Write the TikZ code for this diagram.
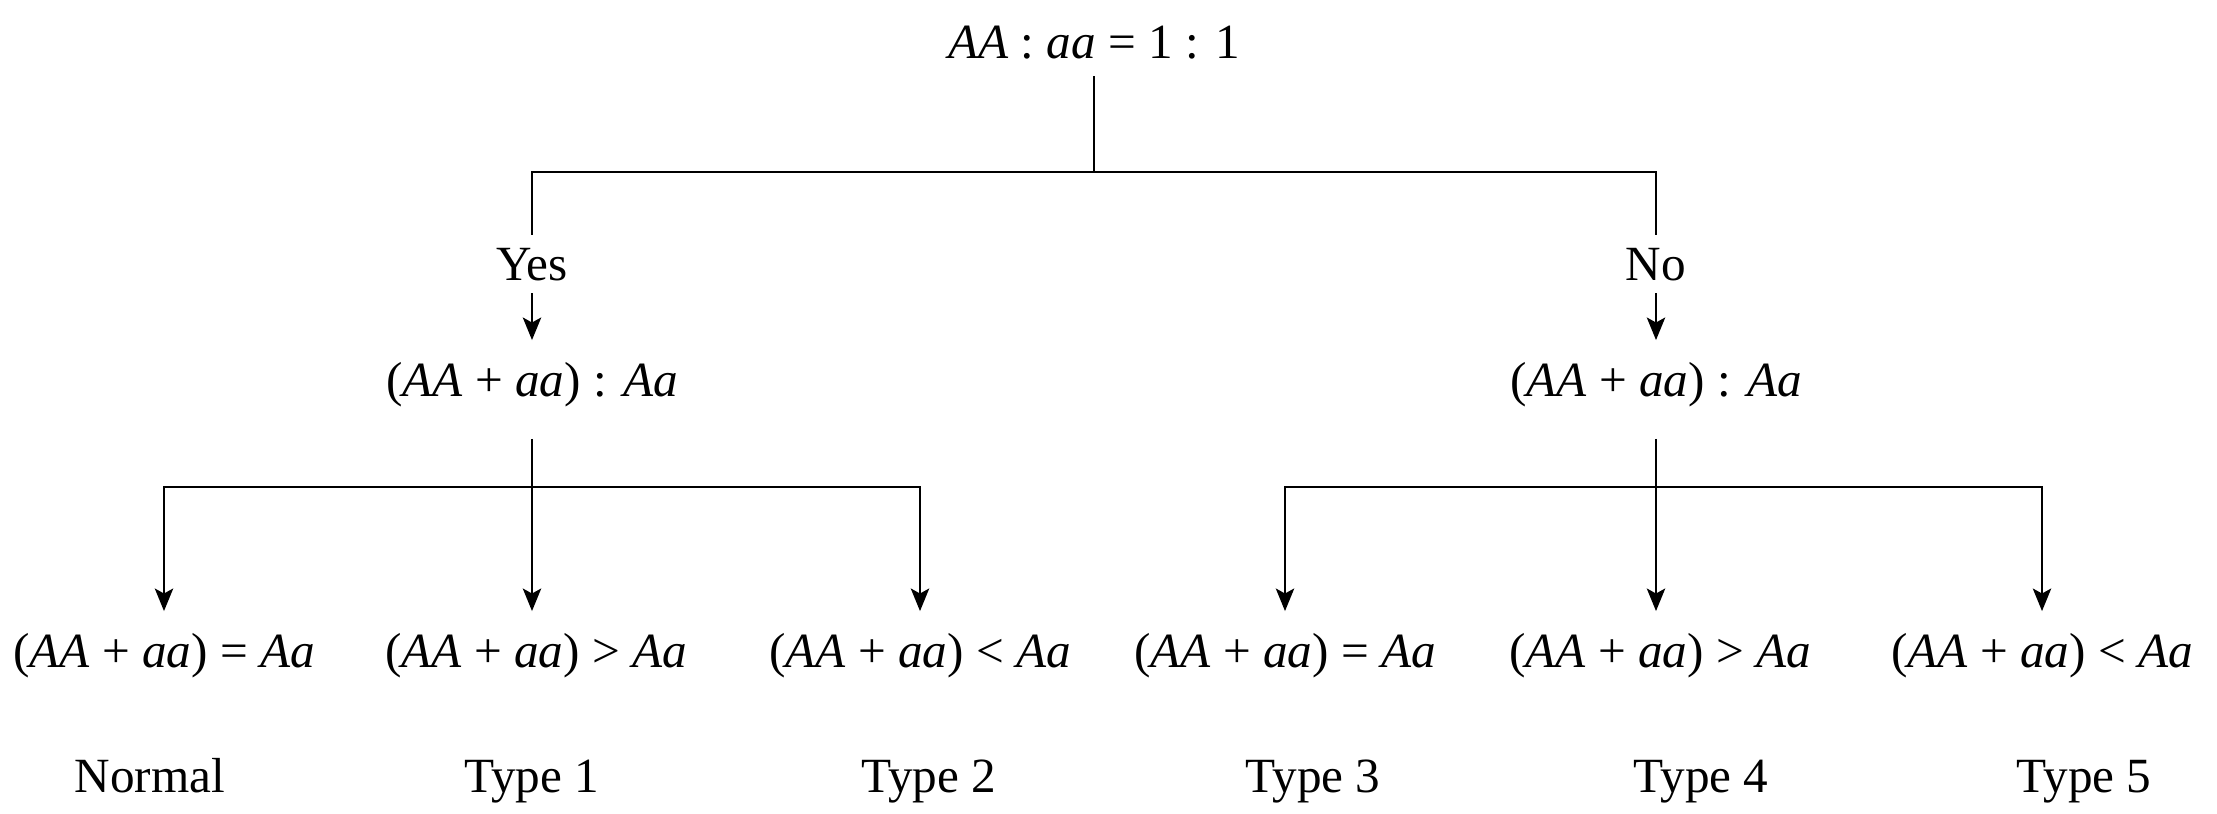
\documentclass[tikz,border=0pt]{standalone}
\usepackage{fontspec}
\setmainfont{Liberation Serif}
\usetikzlibrary{arrows.meta}
\tikzset{
	txt/.style={anchor=base, inner xsep=0pt, font=\fontsize{14}{17}\selectfont},
	rootbox/.style={txt, inner ysep=4.8pt},
	answer/.style={txt, inner ysep=3.5pt},
	ratio/.style={txt, inner ysep=6pt},
	typename/.style={txt, inner ysep=0pt},
	link/.style={line width=0.75pt},
	arrow/.style={link, -{Stealth[length=6.4pt,width=5.2pt,inset=1.4pt]}},
}
\newcommand{\sumAa}{(\textit{AA} + \textit{aa})}

\begin{document}
\begin{tikzpicture}
	%%%%% START %%%%%
	\useasboundingbox (0, 0) rectangle (22.17, -8.13);

	\node[rootbox] (root) at (10.94, -0.58) {\textit{AA} : \textit{aa} = 1 : 1};
	\coordinate (rootsplit) at (10.94, -1.72);

	\node[answer] (yes) at (5.32, -2.80) {Yes};
	\node[answer] (no) at (16.56, -2.80) {No};

	\node[ratio] (yesratio) at (5.32, -3.96) {\sumAa{} : \textit{Aa}};
	\node[ratio] (noratio) at (16.56, -3.96) {\sumAa{} : \textit{Aa}};

	\draw[link] (root) -- (rootsplit);
	\draw[link] (yes.north) |- (rootsplit) -| (no.north);
	\draw[arrow] (yes) -- (yesratio);
	\draw[arrow] (no) -- (noratio);

	\node[ratio] (normal) at (1.64, -6.67) {\sumAa{} = \textit{Aa}};
	\node[ratio] (more1) at (5.36, -6.67) {\sumAa{} > \textit{Aa}};
	\node[ratio] (less2) at (9.20, -6.67) {\sumAa{} < \textit{Aa}};
	\node[ratio] (equal3) at (12.85, -6.67) {\sumAa{} = \textit{Aa}};
	\node[ratio] (more4) at (16.60, -6.67) {\sumAa{} > \textit{Aa}};
	\node[ratio] (less5) at (20.42, -6.67) {\sumAa{} < \textit{Aa}};

	\coordinate (yessplit) at (5.32, -4.87);
	\coordinate (nosplit) at (16.56, -4.87);

	\draw[arrow] ([yshift=-3pt]yesratio.south) -- (yesratio |- more1.north);
	\draw[arrow] (yessplit) -| (normal);
	\draw[arrow] (yessplit) -| (less2);

	\draw[arrow] ([yshift=-3pt]noratio.south) -- (noratio |- more4.north);
	\draw[arrow] (nosplit) -| (equal3);
	\draw[arrow] (nosplit) -| (less5);

	\node[typename] (type0) at (1.50, -7.92) {Normal};
	\node[typename] (type1) at (5.32, -7.92) {Type 1};
	\node[typename] (type2) at (9.29, -7.92) {Type 2};
	\node[typename] (type3) at (13.13, -7.92) {Type 3};
	\node[typename] (type4) at (17.01, -7.92) {Type 4};
	\node[typename] (type5) at (20.84, -7.92) {Type 5};
	%%%%% END %%%%%
\end{tikzpicture}
\end{document}
